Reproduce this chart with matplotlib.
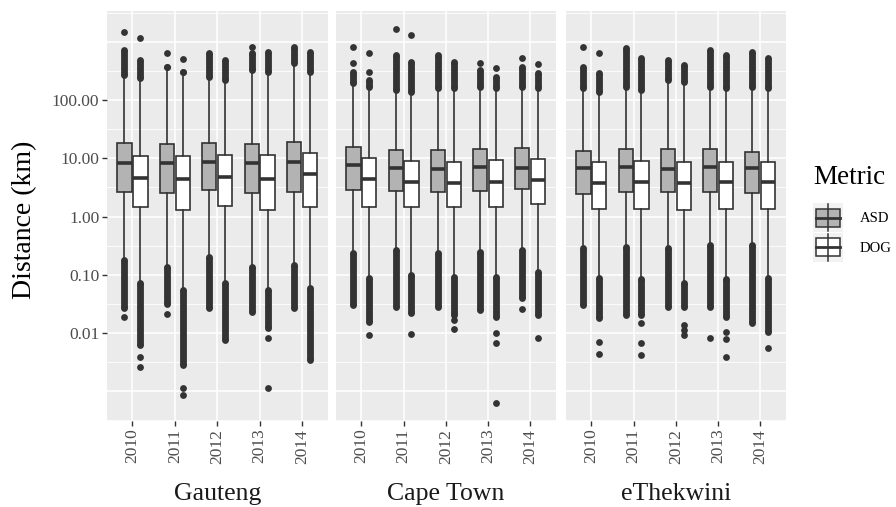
import matplotlib
matplotlib.use("Agg")
import matplotlib.pyplot as plt
import numpy as np
from matplotlib.patches import Rectangle

plt.rcParams["font.family"] = ["Liberation Serif", "DejaVu Serif"]

FIG_W, FIG_H, DPI = 896, 507, 100

REGIONS = ["Gauteng", "Cape Town", "eThekwini"]
YEARS = ["2010", "2011", "2012", "2013", "2014"]
METRICS = ["ASD", "DOG"]

# rows: Gauteng, Cape Town, eThekwini ; columns: 2010..2014 (km)
ASD_Q1 = [[2.67, 2.5, 2.85, 2.5, 2.6], [2.85, 2.77, 2.67, 2.77, 2.97], [2.43, 2.6, 2.6, 2.6, 2.56]]
ASD_MED = [[8.2, 8.2, 8.5, 8.2, 8.7], [7.7, 6.7, 6.5, 7.2, 6.9], [6.7, 7.2, 6.5, 7.2, 6.9]]
ASD_Q3 = [[18.1, 17.4, 18.1, 17.6, 19.2], [15.8, 13.9, 13.9, 14.3, 14.8], [13.5, 14.3, 14.3, 14.3, 13.0]]
ASD_WHISLO = [[0.179, 0.137, 0.204, 0.137, 0.147], [0.233, 0.266, 0.233, 0.249, 0.266], [0.284, 0.303, 0.284, 0.324, 0.324]]
ASD_WHISHI = [[269, 373, 251, 327, 427], [194, 148, 159, 169, 169], [159, 169, 220, 169, 169]]
ASD_LOW_OUT = [[0.0265, 0.032, 0.0265, 0.0232, 0.0265], [0.030, 0.0283, 0.0283, 0.0248, 0.0394], [0.030, 0.0204, 0.0283, 0.0283, 0.0147]]
ASD_HIGH_OUT = [[722, 373, 634, 634, 822], [306, 592, 592, 327, 373], [373, 772, 486, 722, 675]]
ASD_OTHER_OUT = [
    [[1452, 0.019], [634, 0.021], [], [822], []],
    [[822, 427], [1636], [], [437], [520, 0.0255]],
    [[822], [], [], [0.0083], []],
]

DOG_Q1 = [[1.47, 1.29, 1.51, 1.29, 1.44], [1.47, 1.47, 1.44, 1.47, 1.64], [1.33, 1.35, 1.29, 1.35, 1.33]]
DOG_MED = [[4.6, 4.5, 4.8, 4.5, 5.3], [4.35, 3.96, 3.8, 3.96, 4.2], [3.8, 3.96, 3.8, 3.96, 3.96]]
DOG_Q3 = [[11.1, 11.1, 11.4, 11.4, 12.2], [10.2, 9.1, 8.7, 9.3, 9.7], [8.5, 9.0, 8.7, 8.7, 8.7]]
DOG_WHISLO = [[0.071, 0.0547, 0.071, 0.0547, 0.0585], [0.087, 0.099, 0.093, 0.093, 0.113], [0.087, 0.084, 0.073, 0.084, 0.087]]
DOG_WHISHI = [[236, 306, 220, 306, 306], [169, 139, 159, 159, 159], [139, 148, 206, 159, 159]]
DOG_LOW_OUT = [[0.0062, 0.0028, 0.0076, 0.012, 0.0034], [0.0156, 0.0218, 0.0204, 0.019, 0.0204], [0.0179, 0.0204, 0.0283, 0.019, 0.0105]]
DOG_HIGH_OUT = [[486, 306, 486, 675, 675], [220, 455, 455, 251, 287], [294, 520, 399, 592, 520]]
DOG_OTHER_OUT = [
    [[1146, 0.0039, 0.0026], [500, 0.00112, 0.00086], [], [0.0081, 0.00112], []],
    [[634, 306, 0.0092], [1306, 0.0098], [0.0167, 0.0116], [350, 0.0101, 0.0067, 0.00064], [415, 0.0083]],
    [[649, 0.0071, 0.0044], [0.0147, 0.0067, 0.0042], [0.0137, 0.0115, 0.0092], [0.0103, 0.0078, 0.0039], [0.0055]],
]

Y_TICKS = [0.01, 0.1, 1, 10, 100]

METRIC_DATA = {
    "ASD": dict(q1=ASD_Q1, med=ASD_MED, q3=ASD_Q3, whislo=ASD_WHISLO, whishi=ASD_WHISHI,
                low=ASD_LOW_OUT, high=ASD_HIGH_OUT, other=ASD_OTHER_OUT),
    "DOG": dict(q1=DOG_Q1, med=DOG_MED, q3=DOG_Q3, whislo=DOG_WHISLO, whishi=DOG_WHISHI,
                low=DOG_LOW_OUT, high=DOG_HIGH_OUT, other=DOG_OTHER_OUT),
}

# styling
PANEL_BG = "#EBEBEB"
EDGE = "#333333"
FILLS = {"ASD": "#B3B3B3", "DOG": "#FFFFFF"}
OFFSETS = {"ASD": -0.1875, "DOG": 0.1875}
BOX_W = 0.3375
DOT = 4.9
PANEL_X = [(107, 327.5), (336, 555.5), (566, 785.5)]
PANEL_TOP, PANEL_BOT = 11, 421


def px_axes(fig, x0, y0, x1, y1):
    return fig.add_axes([x0 / FIG_W, 1 - y1 / FIG_H, (x1 - x0) / FIG_W, (y1 - y0) / FIG_H])


def style_panel(ax, show_y):
    ax.set_facecolor(PANEL_BG)
    for s in ax.spines.values():
        s.set_visible(False)
    ax.set_yscale("log")
    ax.set_ylim(10 ** -3.51, 10 ** 3.53)
    for e in np.arange(-3.5, 3.51, 0.5):
        major = float(e).is_integer()
        ax.axhline(10 ** e, color="white", linewidth=1.1 if major else 0.6, zorder=0)
    for i in range(len(YEARS)):
        ax.axvline(i, color="white", linewidth=1.1, zorder=0)
    ax.minorticks_off()
    if show_y:
        ax.set_yticks(Y_TICKS)
        ax.set_yticklabels(["%.2f" % v for v in Y_TICKS])
        ax.tick_params(axis="y", length=3.5, width=1.0, color=EDGE, labelcolor="#4D4D4D",
                       labelsize=12.5, pad=2)
    else:
        ax.set_yticks([])


def finish_x(ax, region):
    ax.set_xlim(-0.6, len(YEARS) - 0.4)
    ax.set_xticks(range(len(YEARS)))
    ax.set_xticklabels(YEARS)
    ax.tick_params(axis="x", length=3.5, width=1.0, color=EDGE, labelcolor="#4D4D4D",
                   labelsize=12.5, pad=2, labelrotation=90)
    ax.set_xlabel(region, fontsize=18.5, color="#1A1A1A", labelpad=14)


def draw_metric(ax, r, metric):
    d = METRIC_DATA[metric]
    pos = np.arange(len(YEARS)) + OFFSETS[metric]
    stats = []
    for i in range(len(YEARS)):
        stats.append(dict(med=d["med"][r][i], q1=d["q1"][r][i], q3=d["q3"][r][i],
                          whislo=d["whislo"][r][i], whishi=d["whishi"][r][i], fliers=[]))
    ax.bxp(stats, positions=pos, widths=BOX_W, patch_artist=True, showcaps=False,
           showfliers=False, manage_ticks=False,
           boxprops=dict(facecolor=FILLS[metric], edgecolor=EDGE, linewidth=1.2),
           medianprops=dict(color=EDGE, linewidth=2.6, solid_capstyle="butt"),
           whiskerprops=dict(color=EDGE, linewidth=1.2))

    # dense outlier runs
    ax.vlines(pos, d["low"][r], d["whislo"][r], colors=EDGE, linewidth=DOT, zorder=3)
    ax.vlines(pos, d["whishi"][r], d["high"][r], colors=EDGE, linewidth=DOT, zorder=3)
    for ends in ("low", "whislo", "whishi", "high"):
        ax.plot(pos, d[ends][r], "o", ms=DOT, color=EDGE, mec="none", zorder=3)
    for i, vals in enumerate(d["other"][r]):
        if vals:
            ax.plot([pos[i]] * len(vals), vals, "o", ms=DOT, color=EDGE, mec="none", zorder=3)


def draw_legend(fig):
    fig.text(813 / FIG_W, 1 - 178 / FIG_H, "Metric", fontsize=19.5, color="black",
             ha="left", va="center")
    lax = px_axes(fig, 813, 203, 843, 262)
    lax.set_xlim(0, 1)
    lax.set_ylim(2, 0)
    lax.axis("off")
    for k, metric in enumerate(METRICS):
        lax.add_patch(Rectangle((0, k), 1, 1, facecolor="#F2F2F2", edgecolor="none"))
        lax.plot([0.5, 0.5], [k + 0.05, k + 0.95], color=EDGE, linewidth=1.1)
        lax.add_patch(Rectangle((0.1, k + 0.2), 0.8, 0.6, facecolor=FILLS[metric],
                                edgecolor=EDGE, linewidth=1.1))
        lax.plot([0.1, 0.9], [k + 0.5, k + 0.5], color=EDGE, linewidth=2.0)
        fig.text(860 / FIG_W, 1 - (218 + 30 * k) / FIG_H, metric, fontsize=10.5,
                 color="black", ha="left", va="center")


def main():
    fig = plt.figure(figsize=(FIG_W / DPI, FIG_H / DPI), dpi=DPI)
    for r, region in enumerate(REGIONS):
        x0, x1 = PANEL_X[r]
        ax = px_axes(fig, x0, PANEL_TOP, x1, PANEL_BOT)
        style_panel(ax, show_y=(r == 0))
        for metric in METRICS:
            draw_metric(ax, r, metric)
        finish_x(ax, region)

    fig.text(25 / FIG_W, 1 - 220 / FIG_H, "Distance (km)", rotation=90, fontsize=20,
             color="black", ha="center", va="center")
    draw_legend(fig)
    fig.savefig("out.png", dpi=DPI)


if __name__ == "__main__":
    main()
